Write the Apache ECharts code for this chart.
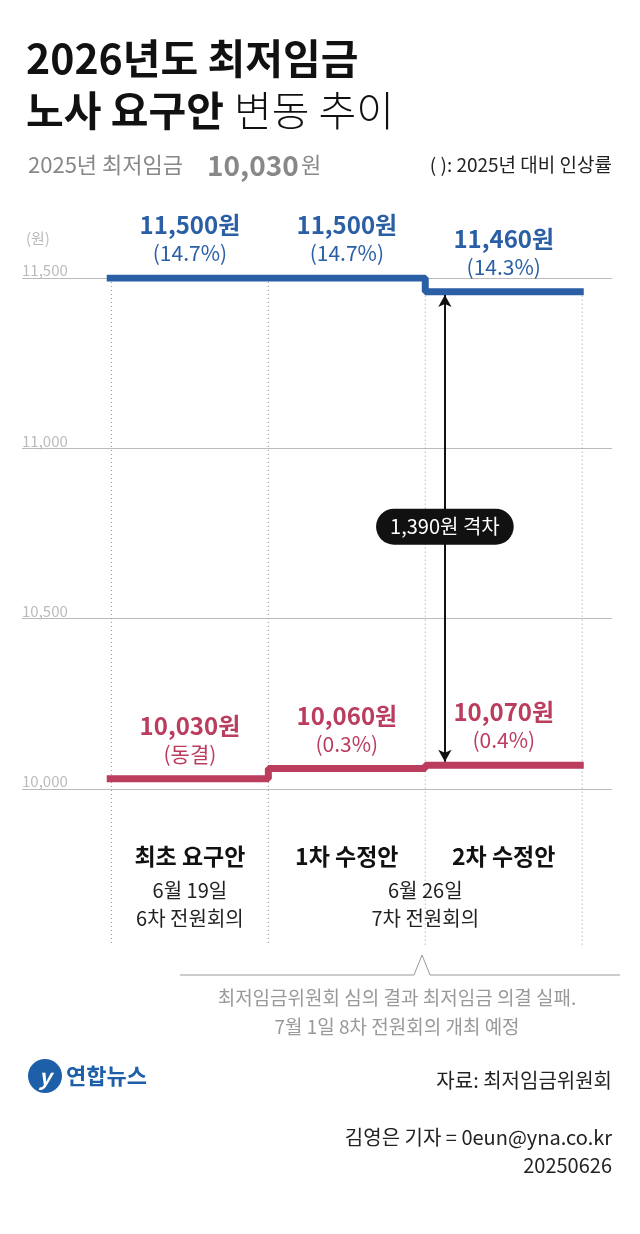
<!DOCTYPE html>
<html><head><meta charset="utf-8">
<script src="https://cdn.jsdelivr.net/npm/echarts@6/dist/echarts.min.js"></script>
<style>
html,body{margin:0;padding:0;background:#fff;}
#chart{width:640px;height:1234px;}
</style></head>
<body><div id="chart"></div>
<script>
var yTicks = [10000, 10500, 11000, 11500];
var stages = ['최초 요구안', '1차 수정안', '2차 수정안'];
var labor = [11500, 11500, 11460];
var laborRate = ['14.7%', '14.7%', '14.3%'];
var mgmt = [10030, 10060, 10070];
var mgmtRate = ['동결', '0.3%', '0.4%'];
var gap = 1390;

var FONT = '"Noto Sans CJK KR", sans-serif';
var BLUE = '#2a5fa6', RED = '#bb3d5e';
var chart = echarts.init(document.getElementById('chart'));

function stepData(vals) {
  var d = [[-0.03, vals[0]]];
  for (var i = 0; i < vals.length; i++) {
    d.push([i, vals[i]]);
    d.push([i + 1, vals[i]]);
  }
  d[d.length - 1][0] = 3.01;
  return d;
}
function fmt(v) { return v.toLocaleString('en-US'); }
function labelData(vals, rates) {
  return vals.map(function (v, i) { return { value: [i + 0.5, v], name: fmt(v) + '원', rate: rates[i] }; });
}
function labelSeries(vals, rates, color) {
  return {
    type: 'scatter', symbolSize: 0, silent: true, itemStyle: { opacity: 1 },
    data: labelData(vals, rates),
    label: {
      show: true, position: 'top', distance: 12,
      formatter: function (p) { return '{a|' + p.data.name + '}\n{b|(' + p.data.rate + ')}'; },
      rich: {
        a: { fontFamily: FONT, fontSize: 24, fontWeight: 'bold', color: color, lineHeight: 30, align: 'center' },
        b: { fontFamily: FONT, fontSize: 21, color: color, lineHeight: 26, align: 'center' }
      }
    }
  };
}

var option = {
  animation: false,
  grid: { left: 22, right: 28, top: 278, height: 511 },
  xAxis: { type: 'value', min: -0.57, max: 3.19, show: false },
  yAxis: {
    type: 'value', min: yTicks[0], max: yTicks[yTicks.length - 1], interval: 500,
    axisLine: { show: false }, axisTick: { show: false },
    splitLine: { lineStyle: { color: '#bbb', width: 1 } },
    axisLabel: {
      inside: true, verticalAlign: 'bottom', margin: 0, color: '#bbb',
      fontFamily: FONT, fontSize: 15,
      formatter: function (v) { return fmt(v); }
    }
  },
  series: [
    { type: 'line', data: stepData(labor), symbol: 'none', lineStyle: { color: BLUE, width: 7 }, silent: true,
      markLine: {
        silent: true, symbol: ['arrow', 'arrow'], symbolSize: [10, 12],
        lineStyle: { color: '#111', width: 2, type: 'solid' }, label: { show: false },
        data: [[{ coord: [2.125, labor[2] - 10] }, { coord: [2.125, mgmt[2] + 10] }]]
      }
    },
    { type: 'line', data: stepData(mgmt), symbol: 'none', lineStyle: { color: RED, width: 7 }, silent: true },
    labelSeries(labor, laborRate, BLUE),
    labelSeries(mgmt, mgmtRate, RED),
    {
      type: 'scatter', symbolSize: 0, silent: true, z: 20, zlevel: 1, itemStyle: { opacity: 1 },
      data: [[2.125, (labor[2] + mgmt[2]) / 2 + 5]],
      label: {
        show: true, position: 'inside', formatter: fmt(gap) + '원 격차',
        backgroundColor: '#111', color: '#fff', borderRadius: 18,
        padding: [8, 14], fontFamily: FONT, fontSize: 20
      }
    }
  ]
};
chart.setOption(option);

var g = [];
function px(x, y) { return chart.convertToPixel({ gridIndex: 0 }, [x, y]); }
[0, 1, 2, 3].forEach(function (i) {
  var top = px(i, labor[Math.min(i, 2)])[1], x = px(i, 0)[0];
  g.push({ type: 'line', z: 0, shape: { x1: x, y1: top + 4, x2: x, y2: 945 },
    style: { stroke: '#999', lineWidth: 1, lineDash: [1, 3] } });
});
stages.forEach(function (s, i) {
  g.push({ type: 'text', x: px(i + 0.5, 0)[0], y: 856, style: { text: s, font: 'bold 23px ' + FONT, fill: '#111', textAlign: 'center', textVerticalAlign: 'middle' } });
});
g.push({ type: 'text', x: px(0.5, 0)[0], y: 904, style: { text: '6월 19일\n6차 전원회의', font: '20px ' + FONT, lineHeight: 28, fill: '#222', textAlign: 'center', textVerticalAlign: 'middle' } });
g.push({ type: 'text', x: px(2, 0)[0], y: 904, style: { text: '6월 26일\n7차 전원회의', font: '20px ' + FONT, lineHeight: 28, fill: '#222', textAlign: 'center', textVerticalAlign: 'middle' } });
g.push({ type: 'polyline', shape: { points: [[180, 975], [414, 975], [422, 955], [430, 975], [620, 975]] }, style: { stroke: '#999', lineWidth: 1, fill: null } });
g.push({ type: 'text', x: 397, y: 1012, style: { text: '최저임금위원회 심의 결과 최저임금 의결 실패.\n7월 1일 8차 전원회의 개최 예정', font: '19px ' + FONT, lineHeight: 29, fill: '#999', textAlign: 'center', textVerticalAlign: 'middle' } });
// titles
g.push({ type: 'text', x: 26, y: 58, style: { text: '2026년도 최저임금', font: 'bold 41px ' + FONT, fill: '#111', textVerticalAlign: 'middle' } });
g.push({ type: 'text', x: 26, y: 110, style: { text: '노사 요구안', font: 'bold 41px ' + FONT, fill: '#111', textVerticalAlign: 'middle' } });
g.push({ type: 'text', x: 234, y: 110, style: { text: '변동 추이', font: '300 41px ' + FONT, fill: '#111', textVerticalAlign: 'middle' } });
g.push({ type: 'text', x: 28, y: 165, style: { text: '2025년 최저임금', font: '22px ' + FONT, fill: '#888', textVerticalAlign: 'middle' } });
g.push({ type: 'text', x: 207, y: 165, style: { text: '10,030', font: 'bold 28px ' + FONT, fill: '#888', textVerticalAlign: 'middle' } });
g.push({ type: 'text', x: 301, y: 165, style: { text: '원', font: '22px ' + FONT, fill: '#888', textVerticalAlign: 'middle' } });
g.push({ type: 'text', x: 612, y: 165, style: { text: '( ): 2025년 대비 인상률', font: '19px ' + FONT, fill: '#222', textAlign: 'right', textVerticalAlign: 'middle' } });
g.push({ type: 'text', x: 26, y: 238, style: { text: '(원)', font: '15px ' + FONT, fill: '#bbb', textVerticalAlign: 'middle' } });
// footer
g.push({ type: 'circle', shape: { cx: 45, cy: 1076, r: 17 }, style: { fill: '#1d5fa8' } });
g.push({ type: 'text', x: 45, y: 1077, style: { text: 'y', font: 'italic bold 22px ' + FONT, fill: '#fff', textAlign: 'center', textVerticalAlign: 'middle' } });
g.push({ type: 'text', x: 66, y: 1076, style: { text: '연합뉴스', font: 'bold 22px ' + FONT, fill: '#1d5fa8', textVerticalAlign: 'middle' } });
g.push({ type: 'text', x: 612, y: 1080, style: { text: '자료: 최저임금위원회', font: '20px ' + FONT, fill: '#222', textAlign: 'right', textVerticalAlign: 'middle' } });
g.push({ type: 'text', x: 612, y: 1151, style: { text: '김영은 기자 = 0eun@yna.co.kr\n20250626', font: '20px ' + FONT, lineHeight: 28, fill: '#222', textAlign: 'right', textVerticalAlign: 'middle' } });
chart.setOption({ graphic: g });
</script>
</body></html>
